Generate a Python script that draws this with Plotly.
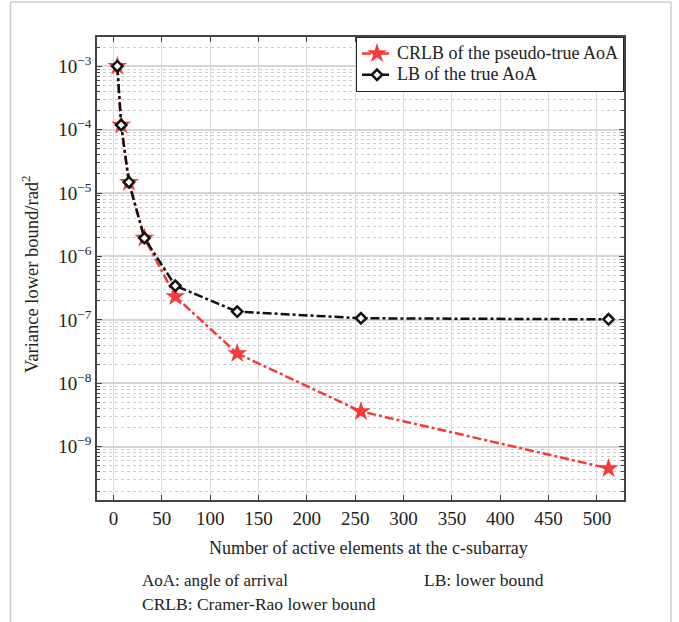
import plotly.graph_objects as go

# Number of active elements at the c-subarray
elements = [4, 8, 16, 32, 64, 128, 256, 512]

# Variance lower bounds (rad^2)
crlb_pseudo_true = [1.0e-3, 1.18e-4, 1.48e-5, 1.95e-6, 2.33e-7, 2.95e-8, 3.6e-9, 4.55e-10]
lb_true = [1.0e-3, 1.18e-4, 1.48e-5, 1.95e-6, 3.45e-7, 1.35e-7, 1.06e-7, 1.02e-7]

series_names = ["CRLB of the pseudo-true AoA", "LB of the true AoA"]

x_ticks = [0, 50, 100, 150, 200, 250, 300, 350, 400, 450, 500]
y_exponents = [-3, -4, -5, -6, -7, -8, -9]

FONT = "Liberation Serif, Times New Roman, DejaVu Serif, serif"
W, H = 679, 622
ML, MR, MT, MB = 97, 55, 37, 122
PW, PH = W - ML - MR, H - MT - MB


def px(x):
    return (x - ML) / PW


def py(y):
    return (H - MB - y) / PH


def legend_label(name):
    # larger glyphs inside a compact legend row
    return '<span style="font-size:18px">%s</span>' % name


fig = go.Figure()

fig.add_trace(go.Scatter(
    x=elements, y=crlb_pseudo_true, name=legend_label(series_names[0]),
    mode="lines+markers",
    line=dict(color="#f53a3a", width=2.5, dash="dashdot"),
    marker=dict(symbol="star", size=15, color="#f53a3a", line=dict(width=0)),
))
fig.add_trace(go.Scatter(
    x=elements, y=lb_true, name=legend_label(series_names[1]),
    mode="lines+markers",
    line=dict(color="#111111", width=2.5, dash="dashdot"),
    marker=dict(symbol="diamond", size=8, color="white",
                line=dict(color="#111111", width=2.5)),
))

# minor tick positions inside each decade of the log axis
minor_vals = [k * 10.0 ** e for e in range(-10, -2) for k in range(2, 10)]

fig.update_xaxes(
    range=[-17, 528],
    tickvals=x_ticks,
    ticktext=[str(v) for v in x_ticks],
    ticks="inside", ticklen=5, tickcolor="#444",
    showline=True, linecolor="#444", linewidth=1.5, mirror="ticks",
    showgrid=True, gridcolor="#dcdcdc", gridwidth=1,
    zeroline=False,
    tickfont=dict(family=FONT, size=19, color="#222"),
)
fig.update_yaxes(
    type="log",
    range=[-9.84, -2.54],
    tickvals=[10.0 ** e for e in y_exponents],
    ticktext=["10<sup>\u2212%d</sup>" % abs(e) for e in y_exponents],
    ticks="inside", ticklen=5, tickcolor="#444",
    showline=True, linecolor="#444", linewidth=1.5, mirror="ticks",
    showgrid=True, gridcolor="#d6d6d6", gridwidth=1.5,
    zeroline=False,
    tickfont=dict(family=FONT, size=19, color="#222"),
    minor=dict(tickmode="array", tickvals=minor_vals, ticks="inside",
               ticklen=3, tickcolor="#444", showgrid=True,
               gridcolor="#cdcdcd", griddash="dot", gridwidth=1),
)

annotations = [
    dict(text="Number of active elements at the c-subarray",
         x=px(368), y=py(548), xanchor="center", yanchor="middle",
         font=dict(family=FONT, size=18, color="#222")),
    dict(text="Variance lower bound/rad<sup>2</sup>", textangle=-90,
         x=px(30), y=py(274), xanchor="center", yanchor="middle",
         font=dict(family=FONT, size=18.5, color="#222")),
    dict(text="AoA: angle of arrival",
         x=px(140), y=py(580), xanchor="left", yanchor="middle",
         font=dict(family=FONT, size=17, color="#222")),
    dict(text="LB: lower bound",
         x=px(422), y=py(580), xanchor="left", yanchor="middle",
         font=dict(family=FONT, size=17.5, color="#222")),
    dict(text="CRLB: Cramer-Rao lower bound",
         x=px(140), y=py(604), xanchor="left", yanchor="middle",
         font=dict(family=FONT, size=17.5, color="#222")),
]
for a in annotations:
    a.update(xref="paper", yref="paper", showarrow=False)

# light frame around the figure
frame = dict(color="#cccccc", width=1.5)
shapes = [
    dict(type="line", x0=px(10.5), x1=px(10.5), y0=py(2), y1=py(622), line=frame),
    dict(type="line", x0=px(671), x1=px(671), y0=py(2), y1=py(622), line=frame),
    dict(type="line", x0=px(10.5), x1=px(671), y0=py(2), y1=py(2), line=frame),
]
for s in shapes:
    s.update(xref="paper", yref="paper", layer="below")

fig.update_layout(
    width=W, height=H,
    margin=dict(l=ML, r=MR, t=MT, b=MB),
    paper_bgcolor="white", plot_bgcolor="white",
    font=dict(family=FONT, color="#222"),
    showlegend=True,
    legend=dict(
        x=1, y=1, xanchor="right", yanchor="top",
        bgcolor="white", bordercolor="#222", borderwidth=1,
        font=dict(family=FONT, size=14, color="#222"),
        tracegroupgap=0, itemwidth=30,
    ),
    annotations=annotations,
    shapes=shapes,
)

fig.write_html("out.html")
